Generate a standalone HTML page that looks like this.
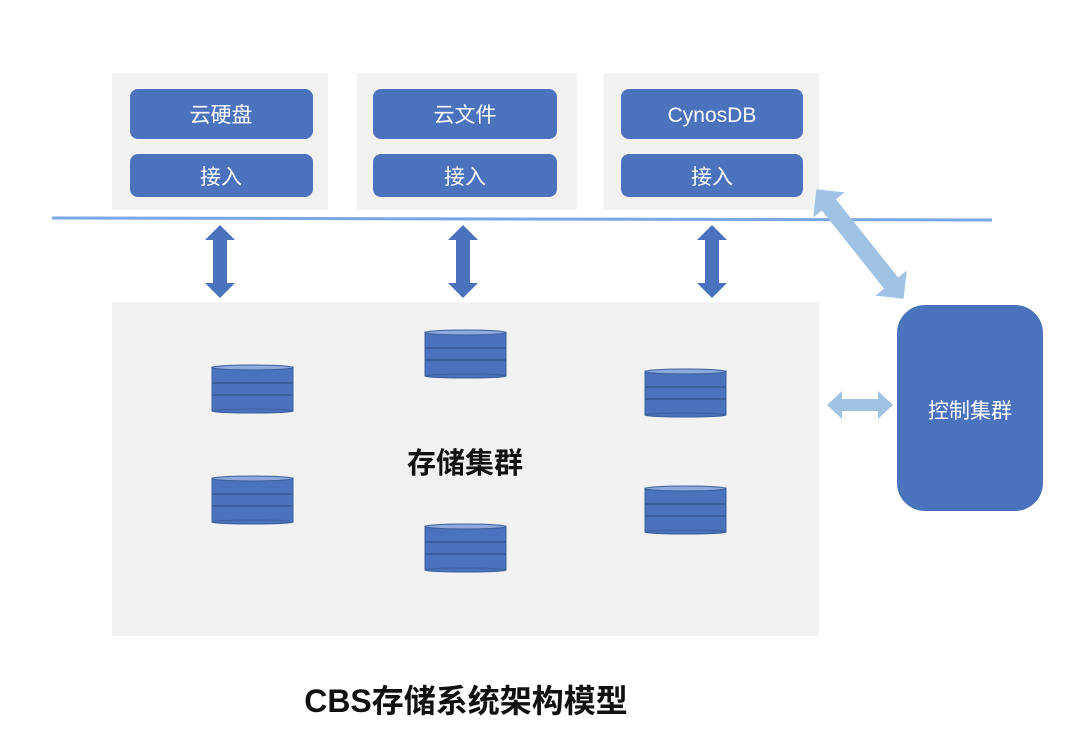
<!DOCTYPE html>
<html><head><meta charset="utf-8"><style>
html,body{margin:0;padding:0;background:#fff;}
svg{display:block;}
text{font-family:"Liberation Sans","Noto Sans CJK SC",sans-serif;}
</style></head><body>
<svg width="1080" height="752" viewBox="0 0 1080 752" xmlns="http://www.w3.org/2000/svg">
<defs>
<g id="cyl">
  <rect x="0" y="2" width="81" height="44" fill="#4a72bd" stroke="#3b5f9e" stroke-width="1"/>
  <ellipse cx="40.5" cy="46" rx="40.5" ry="2" fill="#4a72bd" stroke="#3b5f9e" stroke-width="1"/>
  <line x1="0" y1="18" x2="81" y2="18" stroke="#3b5f9e" stroke-width="2"/>
  <line x1="0" y1="30" x2="81" y2="30" stroke="#3b5f9e" stroke-width="2"/>
  <ellipse cx="40.5" cy="2.5" rx="40.5" ry="2.5" fill="#8ea9dc" stroke="#3b5f9e" stroke-width="1"/>
</g>
<g id="varr">
  <polygon points="0,0 15,15 7,15 7,58 15,58 0,73 -15,58 -7,58 -7,15 -15,15" fill="#4a72bd"/>
</g>
</defs>

<rect x="112" y="73" width="216" height="137" fill="#f2f2f2"/>
<rect x="357" y="73" width="220" height="137" fill="#f2f2f2"/>
<rect x="603" y="73" width="216" height="137" fill="#f2f2f2"/>

<rect x="130" y="89" width="183" height="50" rx="8" fill="#4a72bd"/>
<rect x="130" y="154" width="183" height="43" rx="8" fill="#4a72bd"/>
<rect x="373" y="89" width="184" height="50" rx="8" fill="#4a72bd"/>
<rect x="373" y="154" width="184" height="43" rx="8" fill="#4a72bd"/>
<rect x="621" y="89" width="182" height="50" rx="8" fill="#4a72bd"/>
<rect x="621" y="154" width="182" height="43" rx="8" fill="#4a72bd"/>

<g fill="#fff" font-size="21" text-anchor="middle">
<text x="221" y="122">云硬盘</text>
<text x="221" y="184">接入</text>
<text x="465" y="122">云文件</text>
<text x="465" y="184">接入</text>
<text x="712" y="122">CynosDB</text>
<text x="712" y="184">接入</text>
</g>

<line x1="52" y1="218" x2="992" y2="220" stroke="#7aa7e6" stroke-width="3"/>

<use href="#varr" x="220" y="225"/>
<use href="#varr" x="463" y="225"/>
<use href="#varr" x="712" y="225"/>

<rect x="112" y="302" width="707" height="334" fill="#f2f2f2"/>

<use href="#cyl" x="212" y="365"/>
<use href="#cyl" x="425" y="330"/>
<use href="#cyl" x="645" y="369"/>
<use href="#cyl" x="212" y="476"/>
<use href="#cyl" x="425" y="524"/>
<use href="#cyl" x="645" y="486"/>

<text x="465" y="473" font-size="29" font-weight="bold" text-anchor="middle" fill="#111">存储集群</text>

<rect x="897" y="305" width="146" height="206" rx="28" fill="#4a72bd"/>
<text x="970" y="418" font-size="21" text-anchor="middle" fill="#fff">控制集群</text>

<polygon points="827,405 842,391 842,399 878,399 878,391 893,405 878,419 878,411 842,411 842,419" fill="#a0c2e3"/>

<g transform="translate(860,244) rotate(51.5)">
  <polygon points="-70,0 -50,-20 -50,-9 50,-9 50,-20 70,0 50,20 50,9 -50,9 -50,20" fill="#a0c2e3"/>
</g>

<text x="466" y="712" font-size="32" font-weight="bold" text-anchor="middle" fill="#111">CBS存储系统架构模型</text>
</svg>
</body></html>
